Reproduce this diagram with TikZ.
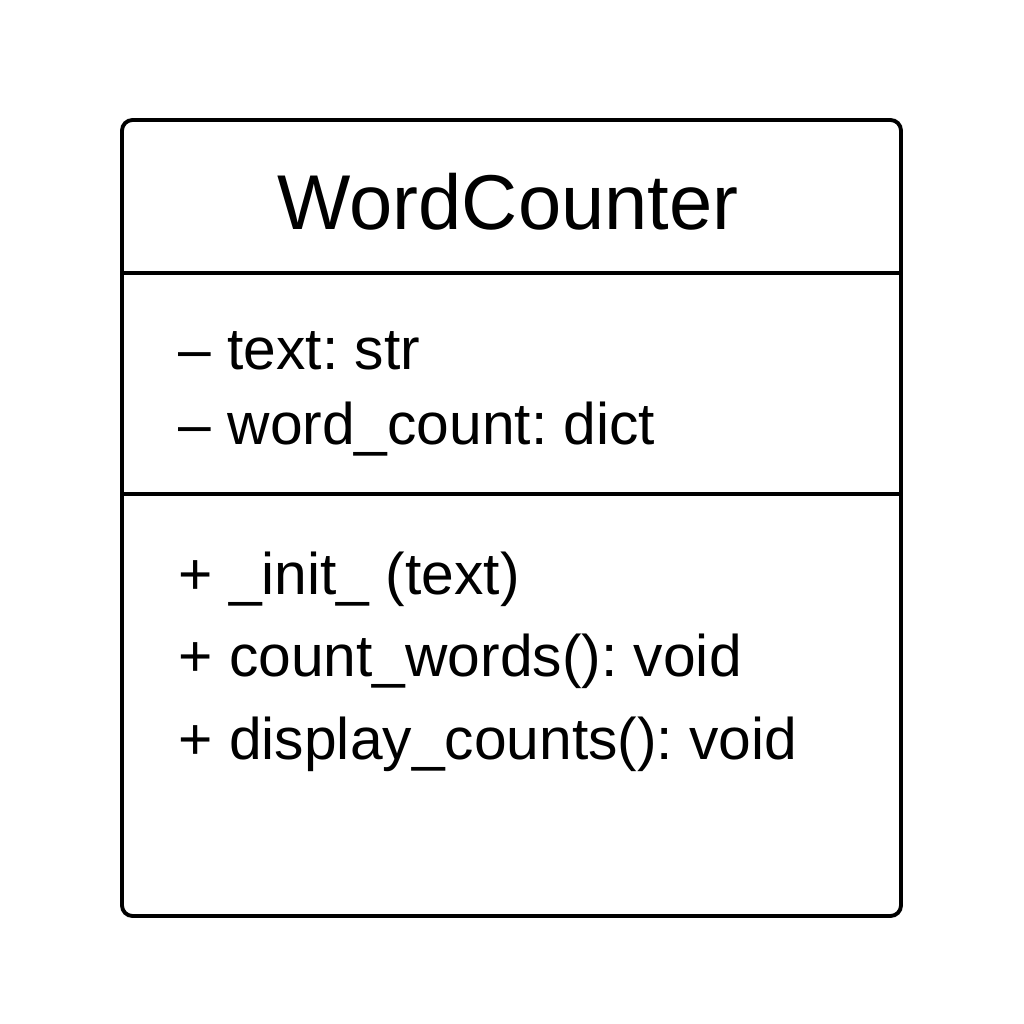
\documentclass[tikz,border=0pt]{standalone}
\usepackage{fontspec}
\setmainfont{Liberation Sans}
\frenchspacing
\begin{document}
\begin{tikzpicture}[x=0.01cm,y=-0.01cm,
  boxline/.style={line width=1.1pt, draw=black},
  title/.style={font=\fontsize{22.1}{26}\selectfont, anchor=base, inner sep=0},
  member/.style={font=\fontsize{16.7}{20}\selectfont, anchor=base west, inner sep=0}]
\useasboundingbox (0,0) rectangle (1024,1024);
\draw[boxline, rounded corners=3pt] (122,120) rectangle (901,916);
\coordinate (d1l) at (122,273); \coordinate (d1r) at (901,273);
\coordinate (d2l) at (122,494); \coordinate (d2r) at (901,494);
\draw[boxline] (d1l) -- (d1r);
\draw[boxline] (d2l) -- (d2r);
\node[title] (cls) at (508,229) {WordCounter};
\node[member] (a1) at (178,369) {– text: str};
\node[member] (a2) at (178,444) {– word\_count: dict};
\node[member] (m1) at (178,594) {+ \_init\_ (text)};
\node[member] (m2) at (178,676) {+ count\_words(): void};
\node[member] (m3) at (178,759) {+ display\_counts(): void};
\end{tikzpicture}
\end{document}
